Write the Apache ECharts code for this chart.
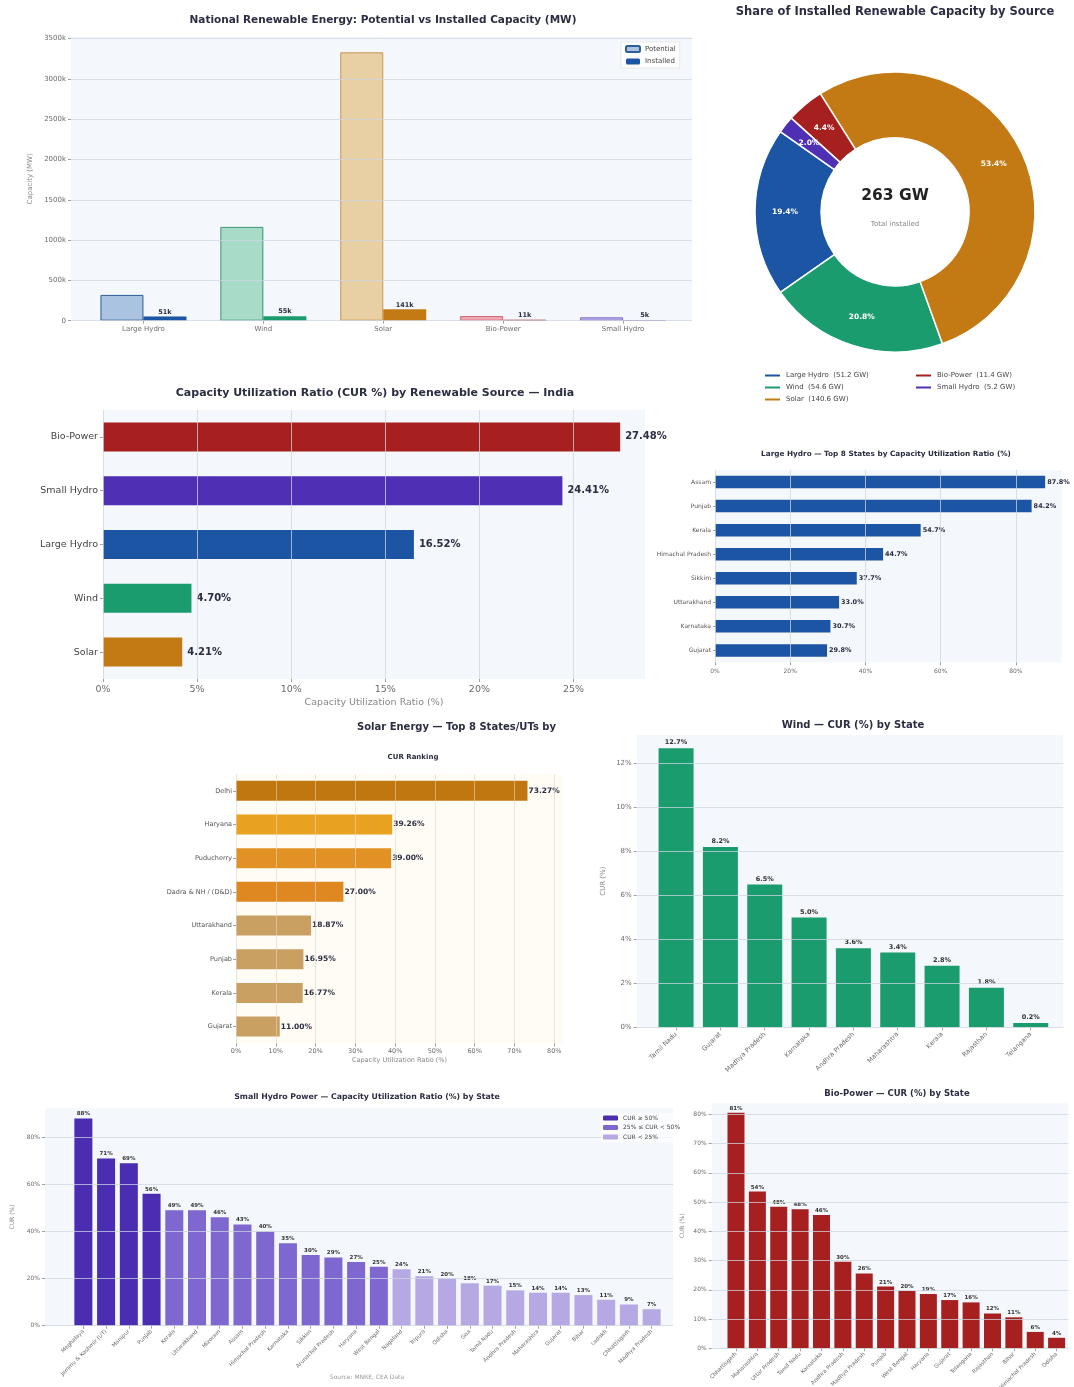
<!DOCTYPE html>
<html>
<head>
<meta charset="utf-8">
<title>India Renewable Energy Dashboard</title>
<script src="https://cdn.jsdelivr.net/npm/echarts@6/dist/echarts.min.js"></script>
<style>
html, body { margin: 0; padding: 0; background: #fff; }
#chart { width: 1074px; height: 1387px; }
</style>
</head>
<body>
<div id="chart"></div>
<script>
// ---- data ----
var sources = ['Large Hydro', 'Wind', 'Solar', 'Bio-Power', 'Small Hydro'];
var potentialMW = [320000, 1164000, 3330000, 58000, 42000];
var installedMW = [51200, 54600, 140600, 11400, 5200];
var sharePct = [19.4, 20.8, 53.4, 4.4, 2.0];

var curSources = ['Bio-Power', 'Small Hydro', 'Large Hydro', 'Wind', 'Solar'];
var curValues = [27.48, 24.41, 16.52, 4.70, 4.21];

var lhStates = ['Assam', 'Punjab', 'Kerala', 'Himachal Pradesh', 'Sikkim', 'Uttarakhand', 'Karnataka', 'Gujarat'];
var lhCur = [87.8, 84.2, 54.7, 44.7, 37.7, 33.0, 30.7, 29.8];

var solarStates = ['Delhi', 'Haryana', 'Puducherry', 'Dadra & NH / (D&D)', 'Uttarakhand', 'Punjab', 'Kerala', 'Gujarat'];
var solarCur = [73.27, 39.26, 39.00, 27.00, 18.87, 16.95, 16.77, 11.00];

var windStates = ['Tamil Nadu', 'Gujarat', 'Madhya Pradesh', 'Karnataka', 'Andhra Pradesh', 'Maharashtra', 'Kerala', 'Rajasthan', 'Telangana'];
var windCur = [12.7, 8.2, 6.5, 5.0, 3.6, 3.4, 2.8, 1.8, 0.2];

var shStates = ['Meghalaya', 'Jammu & Kashmir (UT)', 'Manipur', 'Punjab', 'Kerala', 'Uttarakhand', 'Mizoram', 'Assam',
  'Himachal Pradesh', 'Karnataka', 'Sikkim', 'Arunachal Pradesh', 'Haryana', 'West Bengal', 'Nagaland', 'Tripura',
  'Odisha', 'Goa', 'Tamil Nadu', 'Andhra Pradesh', 'Maharashtra', 'Gujarat', 'Bihar', 'Ladakh', 'Chhattisgarh', 'Madhya Pradesh'];
var shCur = [88, 71, 69, 56, 49, 49, 46, 43, 40, 35, 30, 29, 27, 25, 24, 21, 20, 18, 17, 15, 14, 14, 13, 11, 9, 7];
var shClasses = ['CUR \u2265 50%', '25% \u2264 CUR < 50%', 'CUR < 25%'];

var bioStates = ['Chhattisgarh', 'Maharashtra', 'Uttar Pradesh', 'Tamil Nadu', 'Karnataka', 'Andhra Pradesh', 'Madhya Pradesh', 'Punjab',
  'West Bengal', 'Haryana', 'Gujarat', 'Telangana', 'Rajasthan', 'Bihar', 'Himachal Pradesh', 'Odisha'];
var bioCur = [80.6, 53.6, 48.4, 47.6, 45.6, 29.6, 25.6, 21.1, 19.6, 18.6, 16.5, 15.7, 11.9, 10.6, 5.6, 3.6];

// ---- styles ----
var FONT = 'DejaVu Sans';
var TITLE_C = '#2b2d42';
var TICK_C = '#6b6b6b';
var PLOT_BG = '#f4f7fb';
var GRID_C = 'rgba(206,214,226,0.75)';
var srcColor = { 'Large Hydro': '#1b55a3', 'Wind': '#1a9c6e', 'Solar': '#c37a14', 'Bio-Power': '#a5201f', 'Small Hydro': '#4f2fb3' };
var potFill = { 'Large Hydro': '#a9c3e0', 'Wind': '#a8dcc9', 'Solar': '#e8cfa4', 'Bio-Power': '#eeaab2', 'Small Hydro': '#bcb4e6' };
var potEdge = { 'Large Hydro': '#2d5d97', 'Wind': '#3d9276', 'Solar': '#c99550', 'Bio-Power': '#d46877', 'Small Hydro': '#7d6dd0' };
var solarColors = ['#c0770f', '#e8a21f', '#e29224', '#df8720', '#c9a062', '#c9a062', '#c9a062', '#c9a062'];
var shColors = ['#4a2db0', '#7e68cf', '#b5a8e3'];
var windColor = '#1a9c6e';
var bioColor = '#a5201f';
var lhColor = '#1b55a3';

function kFmt(v) { return v === 0 ? '0' : Math.round(v / 1000) + 'k'; }
function pct0(v) { return Math.round(v) + '%'; }

var grids = [], xAxes = [], yAxes = [], series = [], titles = [], legends = [];

function addGrid(left, top, width, height, bg) {
  grids.push({ left: left, top: top, width: width, height: height, show: !!bg, backgroundColor: bg || 'transparent',
    borderWidth: 0, containLabel: false, outerBoundsMode: 'none' });
  return grids.length - 1;
}
function title(text, x, y, size, extra) {
  var t = { text: text, left: x, top: y, textAlign: 'center', padding: 0,
    textStyle: { fontFamily: FONT, fontSize: size, fontWeight: 'bold', color: TITLE_C } };
  if (extra) { Object.assign(t.textStyle, extra); }
  titles.push(t);
}
function splitLine(color) {
  return { show: true, showMaxLine: false, lineStyle: { color: color || GRID_C, width: 1 } };
}
function tickStyle(len) {
  return { show: true, length: len || 3, lineStyle: { color: '#a0a0a0' } };
}

// vertical bar chart: outer grid holds background + value axis, inner grid holds the category bands
function verticalChart(cfg) {
  var outer = addGrid(cfg.left, cfg.top, cfg.width, cfg.height, PLOT_BG);
  xAxes.push({ type: 'value', gridIndex: outer, show: false });
  yAxes.push({
    type: 'value', gridIndex: outer, min: 0, max: cfg.max, interval: cfg.interval, z: 3,
    axisLine: { show: false }, axisTick: tickStyle(3),
    axisLabel: { fontSize: cfg.tickSize, color: TICK_C, margin: 5, formatter: cfg.yFmt, showMaxLabel: false },
    splitLine: splitLine(),
    name: cfg.yName, nameLocation: 'middle', nameGap: cfg.nameGap,
    nameTextStyle: { fontSize: cfg.tickSize, color: '#888' }
  });
  var inner = addGrid(cfg.innerLeft, cfg.top, cfg.innerWidth, cfg.height);
  xAxes.push({
    type: 'category', gridIndex: inner, data: cfg.categories,
    axisLine: { show: false }, axisTick: { show: true, alignWithLabel: true, length: 3, lineStyle: { color: '#a0a0a0' } },
    axisLabel: { interval: 0, rotate: cfg.rotate || 0, fontSize: cfg.catSize, color: TICK_C, margin: cfg.catMargin || 5 }
  });
  yAxes.push({ type: 'value', gridIndex: inner, min: 0, max: cfg.max, show: false });
  return { x: xAxes.length - 1, y: yAxes.length - 1 };
}

// ---- 1. potential vs installed ----
title('National Renewable Energy: Potential vs Installed Capacity (MW)', 383, 15, 10.5);
var cap = verticalChart({
  left: 71, top: 37, width: 621, height: 283.7, max: 3520000, interval: 500000,
  tickSize: 7, yFmt: kFmt, yName: 'Capacity (MW)', nameGap: 34,
  innerLeft: 83.5, innerWidth: 599.5, categories: sources, catSize: 7, catMargin: 5
});
series.push({
  name: 'Potential', type: 'bar', xAxisIndex: cap.x, yAxisIndex: cap.y, barWidth: 43, barGap: '0%',
  itemStyle: { color: potFill['Large Hydro'], borderColor: potEdge['Large Hydro'], borderWidth: 1 },
  data: potentialMW.map(function (v, i) {
    return { value: v, itemStyle: { color: potFill[sources[i]], borderColor: potEdge[sources[i]], borderWidth: 1 } };
  })
});
series.push({
  name: 'Installed', type: 'bar', xAxisIndex: cap.x, yAxisIndex: cap.y, barWidth: 43, barGap: '0%',
  itemStyle: { color: srcColor['Large Hydro'] },
  label: { show: true, position: 'top', distance: 1, fontSize: 6.5, fontWeight: 'bold', color: TITLE_C,
    formatter: function (p) { return kFmt(p.value); } },
  data: installedMW.map(function (v, i) {
    return { value: v, itemStyle: { color: srcColor[sources[i]], borderColor: srcColor[sources[i]], borderWidth: 0.5 } };
  })
});
legends.push({
  data: ['Potential', 'Installed'], left: 621, top: 42, orient: 'vertical', itemWidth: 14, itemHeight: 6, itemGap: 5,
  textStyle: { fontSize: 7, color: '#444', fontFamily: FONT }, backgroundColor: 'rgba(255,255,255,0.85)',
  borderColor: '#d8d8d8', borderWidth: 0.5, padding: [3, 4], selectedMode: false
});

// ---- 2. donut ----
var installedGW = installedMW.map(function (v) { return v / 1000; });
var totalGW = installedGW.reduce(function (a, b) { return a + b; }, 0);
title('Share of Installed Renewable Capacity by Source', 895, 6, 11.5);
series.push({
  type: 'pie', center: [895, 212], radius: [74, 140], startAngle: 145, clockwise: false,
  silent: true, avoidLabelOverlap: false,
  itemStyle: { borderColor: '#fff', borderWidth: 1.5 },
  label: { show: true, position: 'inside', fontSize: 7.5, fontWeight: 'bold', color: '#fff',
    formatter: function (p) { return sharePct[p.dataIndex].toFixed(1) + '%'; } },
  labelLine: { show: false },
  data: sources.map(function (s, i) { return { name: s, value: installedGW[i], itemStyle: { color: srcColor[s] } }; })
});
function gwLabel(name) { return name + '  (' + installedGW[sources.indexOf(name)].toFixed(1) + ' GW)'; }
legends.push({
  data: ['Large Hydro', 'Wind', 'Solar'], left: 758, top: 367, orient: 'vertical', icon: 'rect',
  itemWidth: 17, itemHeight: 4, itemGap: 5, selectedMode: false, formatter: gwLabel,
  textStyle: { fontSize: 7, color: '#444', fontFamily: FONT }
});
legends.push({
  data: ['Bio-Power', 'Small Hydro'], left: 909, top: 367, orient: 'vertical', icon: 'rect',
  itemWidth: 17, itemHeight: 4, itemGap: 5, selectedMode: false, formatter: gwLabel,
  textStyle: { fontSize: 7, color: '#444', fontFamily: FONT }
});

// ---- 3. CUR by source ----
title('Capacity Utilization Ratio (CUR %) by Renewable Source \u2014 India', 375, 388, 11);
var gCur = addGrid(103, 410, 542, 269, PLOT_BG);
xAxes.push({
  type: 'value', gridIndex: gCur, min: 0, max: 28.8, interval: 5, z: 3,
  axisLine: { show: false }, axisTick: tickStyle(3),
  axisLabel: { fontSize: 9.5, color: TICK_C, margin: 6, formatter: '{value}%', showMaxLabel: false },
  splitLine: splitLine(),
  name: 'Capacity Utilization Ratio (%)', nameLocation: 'middle', nameGap: 19,
  nameTextStyle: { fontSize: 9.5, color: '#888' }
});
yAxes.push({
  type: 'category', gridIndex: gCur, data: curSources, inverse: true,
  axisLine: { show: false }, axisTick: { show: true, alignWithLabel: true, length: 3, lineStyle: { color: '#a0a0a0' } },
  axisLabel: { fontSize: 9.5, color: '#444', margin: 5 }
});
series.push({
  type: 'bar', xAxisIndex: xAxes.length - 1, yAxisIndex: yAxes.length - 1, barWidth: 29,
  label: { show: true, position: 'right', distance: 5, fontSize: 10, fontWeight: 'bold', color: TITLE_C,
    formatter: function (p) { return p.value.toFixed(2) + '%'; } },
  data: curValues.map(function (v, i) { return { value: v, itemStyle: { color: srcColor[curSources[i]] } }; })
});

// ---- 4. large hydro top 8 ----
title('Large Hydro \u2014 Top 8 States by Capacity Utilization Ratio (%)', 886, 451, 7.3);
var gLh = addGrid(715, 470, 346.7, 192.4, PLOT_BG);
xAxes.push({
  type: 'value', gridIndex: gLh, min: 0, max: 92.2, interval: 20, z: 3,
  axisLine: { show: false }, axisTick: tickStyle(3),
  axisLabel: { fontSize: 6, color: TICK_C, margin: 6, formatter: '{value}%', showMaxLabel: false },
  splitLine: splitLine()
});
yAxes.push({
  type: 'category', gridIndex: gLh, data: lhStates, inverse: true,
  axisLine: { show: false }, axisTick: { show: true, alignWithLabel: true, length: 2, lineStyle: { color: '#a0a0a0' } },
  axisLabel: { fontSize: 6, color: '#555', margin: 4 }
});
series.push({
  type: 'bar', xAxisIndex: xAxes.length - 1, yAxisIndex: yAxes.length - 1, barWidth: 12.5,
  itemStyle: { color: lhColor },
  label: { show: true, position: 'right', distance: 2, fontSize: 6.5, fontWeight: 'bold', color: TITLE_C,
    formatter: function (p) { return p.value.toFixed(1) + '%'; } },
  data: lhCur
});

// ---- 5. solar top 8 ----
title('Solar Energy \u2014 Top 8 States/UTs by CUR Ranking', 357, 722, 10, { width: 208, overflow: 'truncate', ellipsis: '' });
titles[titles.length - 1].textAlign = 'left';
title('CUR Ranking', 413, 754, 7);
var gSol = addGrid(236, 774, 327, 269.4, '#fffcf6');
xAxes.push({
  type: 'value', gridIndex: gSol, min: 0, max: 82.2, interval: 10, z: 3,
  axisLine: { show: false }, axisTick: tickStyle(3),
  axisLabel: { fontSize: 6.5, color: TICK_C, margin: 4, formatter: '{value}%', showMaxLabel: false },
  splitLine: splitLine('rgba(228,214,190,0.6)'),
  name: 'Capacity Utilization Ratio (%)', nameLocation: 'middle', nameGap: 13,
  nameTextStyle: { fontSize: 6.5, color: '#888' }
});
yAxes.push({
  type: 'category', gridIndex: gSol, data: solarStates, inverse: true,
  axisLine: { show: false }, axisTick: { show: true, alignWithLabel: true, length: 3, lineStyle: { color: '#a0a0a0' } },
  axisLabel: { fontSize: 6.5, color: '#555', margin: 4 }
});
series.push({
  type: 'bar', xAxisIndex: xAxes.length - 1, yAxisIndex: yAxes.length - 1, barWidth: 20,
  label: { show: true, position: 'right', distance: 1, fontSize: 7.5, fontWeight: 'bold', color: TITLE_C,
    formatter: function (p) { return p.value.toFixed(2) + '%'; } },
  data: solarCur.map(function (v, i) { return { value: v, itemStyle: { color: solarColors[i] } }; })
});

// ---- 6. wind by state ----
title('Wind \u2014 CUR (%) by State', 853, 720, 10);
var wind = verticalChart({
  left: 636.7, top: 735, width: 426.6, height: 292.3, max: 13.3, interval: 2,
  tickSize: 7, yFmt: '{value}%', yName: 'CUR (%)', nameGap: 30,
  innerLeft: 653.9, innerWidth: 399, categories: windStates, catSize: 6.5, rotate: 45, catMargin: 6
});
series.push({
  type: 'bar', xAxisIndex: wind.x, yAxisIndex: wind.y, barWidth: 35, itemStyle: { color: windColor },
  label: { show: true, position: 'top', distance: 2, fontSize: 6.5, fontWeight: 'bold', color: '#333',
    formatter: function (p) { return p.value.toFixed(1) + '%'; } },
  data: windCur
});

// ---- 7. small hydro by state ----
title('Small Hydro Power \u2014 Capacity Utilization Ratio (%) by State', 367, 1093, 7.8);
var sh = verticalChart({
  left: 45, top: 1108.3, width: 628, height: 217.4, max: 92.3, interval: 20,
  tickSize: 6, yFmt: '{value}%', yName: 'CUR (%)', nameGap: 25,
  innerLeft: 72, innerWidth: 591, categories: shStates, catSize: 5.5, rotate: 45, catMargin: 5
});
function shClass(v) { return v >= 50 ? 0 : (v >= 25 ? 1 : 2); }
shClasses.forEach(function (name, k) {
  series.push({
    name: name, type: 'bar', xAxisIndex: sh.x, yAxisIndex: sh.y, barWidth: 18, barGap: '-100%',
    itemStyle: { color: shColors[k] },
    label: { show: true, position: 'top', distance: 1.5, fontSize: 5.5, fontWeight: 'bold', color: '#333',
      formatter: function (p) { return pct0(p.value); } },
    data: shCur.map(function (v) { return shClass(v) === k ? v : '-'; })
  });
});
legends.push({
  data: shClasses, left: 601, top: 1113, orient: 'vertical', itemWidth: 15, itemHeight: 5, itemGap: 3.5,
  selectedMode: false, textStyle: { fontSize: 6, color: '#444', fontFamily: FONT },
  backgroundColor: 'rgba(255,255,255,0.6)', padding: [2, 2]
});

// ---- 8. bio-power by state ----
title('Bio-Power \u2014 CUR (%) by State', 897, 1089, 8.5);
var bio = verticalChart({
  left: 711.7, top: 1103.3, width: 356.6, height: 245, max: 83.8, interval: 10,
  tickSize: 6, yFmt: '{value}%', yName: 'CUR (%)', nameGap: 26,
  innerLeft: 725.3, innerWidth: 342, categories: bioStates, catSize: 5.5, rotate: 45, catMargin: 5
});
series.push({
  type: 'bar', xAxisIndex: bio.x, yAxisIndex: bio.y, barWidth: 17, itemStyle: { color: bioColor },
  label: { show: true, position: 'top', distance: 1.5, fontSize: 5.5, fontWeight: 'bold', color: '#333',
    formatter: function (p) { return pct0(p.value); } },
  data: bioCur
});

var chart = echarts.init(document.getElementById('chart'), null, { renderer: 'canvas' });
chart.setOption({
  animation: false,
  backgroundColor: '#ffffff',
  textStyle: { fontFamily: FONT },
  title: titles,
  legend: legends,
  grid: grids,
  xAxis: xAxes,
  yAxis: yAxes,
  series: series,
  graphic: [
    { type: 'text', x: 895, y: 196, silent: true,
      style: { text: Math.round(totalGW) + ' GW', fontFamily: FONT, fontSize: 15.5, fontWeight: 'bold', fill: '#222', align: 'center', verticalAlign: 'middle' } },
    { type: 'text', x: 895, y: 224, silent: true,
      style: { text: 'Total installed', fontFamily: FONT, fontSize: 7, fill: '#888', align: 'center', verticalAlign: 'middle' } },
    { type: 'text', x: 367, y: 1377, silent: true,
      style: { text: 'Source: MNRE, CEA Data', fontFamily: FONT, fontSize: 6, fill: '#999', align: 'center', verticalAlign: 'middle' } }
  ]
});
</script>
</body>
</html>
